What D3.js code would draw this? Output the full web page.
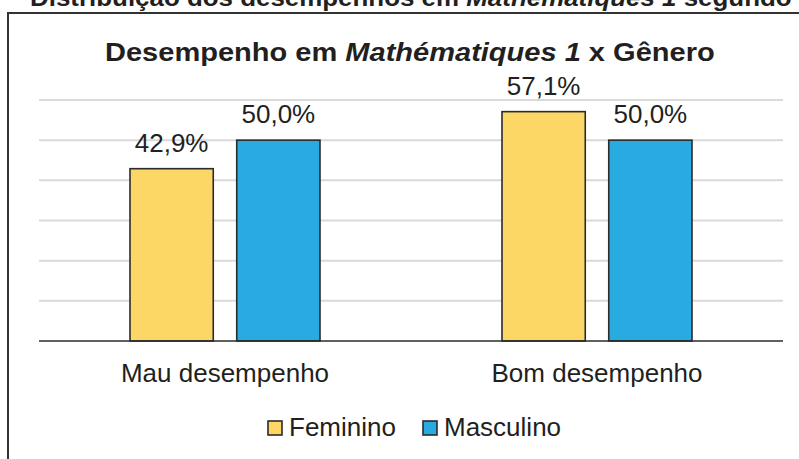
<!DOCTYPE html>
<html lang="pt">
<head>
<meta charset="UTF-8">
<title>Desempenho em Mathématiques 1 x Gênero</title>
<script src="https://d3js.org/d3.v7.min.js"></script>
<style>
  body { margin: 0; background: #fff; }
  text { font-family: "Liberation Sans", Arial, sans-serif; fill: #231f20; }
  .grid line { stroke: #d9d9d9; stroke-width: 2; }
  .bar { stroke: #2b2b2b; stroke-width: 1.6; }
</style>
</head>
<body>
<div id="chart"></div>
<script>
// data
const categories = ["Mau desempenho", "Bom desempenho"];
const series = ["Feminino", "Masculino"];
const feminino = [42.9, 57.1];
const masculino = [50.0, 50.0];
const gridTicks = [10, 20, 30, 40, 50, 60];

const colors = {Feminino: "#fdd766", Masculino: "#29abe2"};
const fmt = v => d3.format(".1f")(v).replace(".", ",") + "%";

const W = 799, H = 459;
const svg = d3.select("#chart").append("svg")
    .attr("width", W)
    .attr("height", H);

// outer frame (cut by the page edge)
svg.append("rect")
    .attr("x", 8).attr("y", 13)
    .attr("width", 900).attr("height", 900)
    .attr("fill", "none")
    .attr("stroke", "#333")
    .attr("stroke-width", 2);

// heading above the frame, cropped by the picture edge as in the original
const headingG = svg.append("g")
    .attr("transform", "translate(30,6) scale(1.08,1)");
const heading = headingG.append("text")
    .attr("font-size", 24)
    .attr("font-weight", "bold");
heading.append("tspan").text("Distribuição dos desempenhos em ");
heading.append("tspan").attr("font-style", "italic").text("Mathématiques 1");
heading.append("tspan").text(" segundo o gênero");

// title, stretched a bit to match width
const titleG = svg.append("g");
const title = titleG.append("text")
    .attr("x", 0).attr("y", 0)
    .attr("font-size", 26)
    .attr("font-weight", "bold");
title.append("tspan").text("Desempenho em ");
title.append("tspan").attr("font-style", "italic").text("Mathématiques 1");
title.append("tspan").text(" x Gênero");
const tw = title.node().getComputedTextLength();
const sx = 610 / tw;
titleG.attr("transform", `translate(105,61) scale(${sx},1)`);

const y = d3.scaleLinear()
    .domain([0, 60])
    .range([341, 100]);

const x0 = d3.scaleBand()
    .domain(categories)
    .range([39, 783]);

const x1 = d3.scaleBand()
    .domain(series)
    .range([91, 281])
    .paddingInner(0.22);

// gridlines
svg.append("g")
    .attr("class", "grid")
  .selectAll("line")
    .data(gridTicks)
    .enter().append("line")
    .attr("x1", 39).attr("x2", 783)
    .attr("y1", d => y(d)).attr("y2", d => y(d));

const rows = categories.map((c, i) => ({
    category: c,
    values: [
        {key: "Feminino", value: feminino[i]},
        {key: "Masculino", value: masculino[i]}
    ]
}));

const groups = svg.append("g")
  .selectAll("g")
    .data(rows)
    .enter().append("g")
    .attr("transform", d => `translate(${x0(d.category)},0)`);

groups.selectAll("rect")
    .data(d => d.values)
    .enter().append("rect")
    .attr("class", "bar")
    .attr("x", d => x1(d.key))
    .attr("y", d => y(d.value))
    .attr("width", x1.bandwidth())
    .attr("height", d => y(0) - y(d.value))
    .attr("fill", d => colors[d.key]);

groups.selectAll("text.val")
    .data(d => d.values)
    .enter().append("text")
    .attr("class", "val")
    .attr("x", d => x1(d.key) + x1.bandwidth() / 2)
    .attr("y", d => y(d.value) - 17)
    .attr("text-anchor", "middle")
    .attr("font-size", 26)
    .text(d => fmt(d.value));

// baseline
svg.append("line")
    .attr("x1", 39).attr("x2", 783)
    .attr("y1", y(0)).attr("y2", y(0))
    .attr("stroke", "#2b2b2b")
    .attr("stroke-width", 1.6);

// category labels
svg.append("g")
  .selectAll("text")
    .data(categories)
    .enter().append("text")
    .attr("x", d => x0(d) + x0.bandwidth() / 2)
    .attr("y", 382)
    .attr("text-anchor", "middle")
    .attr("font-size", 26)
    .text(d => d);

// legend
const legendX = [268, 423];
const legend = svg.append("g")
  .selectAll("g")
    .data(series)
    .enter().append("g")
    .attr("transform", (d, i) => `translate(${legendX[i]},421)`);

legend.append("rect")
    .attr("width", 14).attr("height", 14)
    .attr("fill", d => colors[d])
    .attr("stroke", "#2b2b2b")
    .attr("stroke-width", 1.6);

legend.append("text")
    .attr("x", 21)
    .attr("y", 15)
    .attr("font-size", 26)
    .text(d => d);
</script>
</body>
</html>
